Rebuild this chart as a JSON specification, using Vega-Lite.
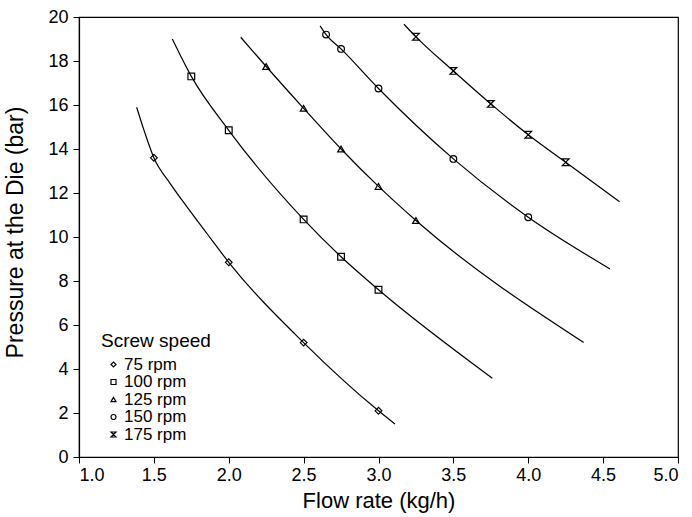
{
  "$schema": "https://vega.github.io/schema/vega-lite/v6.json",
  "autosize": "none",
  "width": 599,
  "height": 440,
  "padding": {"left": 79, "top": 17, "right": 14, "bottom": 60},
  "background": "white",
  "config": {
    "font": "Liberation Sans",
    "view": {"stroke": "black", "strokeWidth": 1.2},
    "axis": {"grid": false, "domainColor": "black", "domainWidth": 1.2, "tickColor": "black", "tickSize": 6, "labelColor": "black", "labelFont": "Liberation Sans", "labelFontSize": 18, "titleColor": "black", "titleFont": "Liberation Sans", "titleFontSize": 21, "titleFontWeight": "normal"}
  },
  "datasets": {
    "curves": [
      {"speed": "75 rpm", "x": 1.385, "y": 15.9},
      {"speed": "75 rpm", "x": 1.441, "y": 14.71},
      {"speed": "75 rpm", "x": 1.5, "y": 13.6},
      {"speed": "75 rpm", "x": 1.608, "y": 12.44},
      {"speed": "75 rpm", "x": 1.72, "y": 11.38},
      {"speed": "75 rpm", "x": 1.853, "y": 10.17},
      {"speed": "75 rpm", "x": 2.0, "y": 8.85},
      {"speed": "75 rpm", "x": 2.5, "y": 5.2},
      {"speed": "75 rpm", "x": 3.0, "y": 2.1},
      {"speed": "75 rpm", "x": 3.11, "y": 1.5},
      {"speed": "100 rpm", "x": 1.623, "y": 19.0},
      {"speed": "100 rpm", "x": 1.75, "y": 17.3},
      {"speed": "100 rpm", "x": 2.0, "y": 14.85},
      {"speed": "100 rpm", "x": 2.5, "y": 10.8},
      {"speed": "100 rpm", "x": 2.75, "y": 9.1},
      {"speed": "100 rpm", "x": 3.0, "y": 7.6},
      {"speed": "100 rpm", "x": 3.76, "y": 3.58},
      {"speed": "125 rpm", "x": 2.08, "y": 19.08},
      {"speed": "125 rpm", "x": 2.25, "y": 17.75},
      {"speed": "125 rpm", "x": 2.5, "y": 15.85},
      {"speed": "125 rpm", "x": 2.75, "y": 14.0},
      {"speed": "125 rpm", "x": 3.0, "y": 12.3},
      {"speed": "125 rpm", "x": 3.25, "y": 10.75},
      {"speed": "125 rpm", "x": 4.37, "y": 5.21},
      {"speed": "150 rpm", "x": 2.61, "y": 19.6},
      {"speed": "150 rpm", "x": 2.65, "y": 19.2},
      {"speed": "150 rpm", "x": 2.75, "y": 18.55},
      {"speed": "150 rpm", "x": 3.0, "y": 16.75},
      {"speed": "150 rpm", "x": 3.5, "y": 13.55},
      {"speed": "150 rpm", "x": 4.0, "y": 10.9},
      {"speed": "150 rpm", "x": 4.546, "y": 8.55},
      {"speed": "175 rpm", "x": 3.17, "y": 19.67},
      {"speed": "175 rpm", "x": 3.25, "y": 19.1},
      {"speed": "175 rpm", "x": 3.5, "y": 17.55},
      {"speed": "175 rpm", "x": 3.75, "y": 16.05},
      {"speed": "175 rpm", "x": 4.0, "y": 14.65},
      {"speed": "175 rpm", "x": 4.25, "y": 13.4},
      {"speed": "175 rpm", "x": 4.61, "y": 11.6}
    ],
    "points": [
      {"speed": "75 rpm", "x": 1.5, "y": 13.6},
      {"speed": "75 rpm", "x": 2.0, "y": 8.85},
      {"speed": "75 rpm", "x": 2.5, "y": 5.2},
      {"speed": "75 rpm", "x": 3.0, "y": 2.1},
      {"speed": "100 rpm", "x": 1.75, "y": 17.3},
      {"speed": "100 rpm", "x": 2.0, "y": 14.85},
      {"speed": "100 rpm", "x": 2.5, "y": 10.8},
      {"speed": "100 rpm", "x": 2.75, "y": 9.1},
      {"speed": "100 rpm", "x": 3.0, "y": 7.6},
      {"speed": "125 rpm", "x": 2.25, "y": 17.75},
      {"speed": "125 rpm", "x": 2.5, "y": 15.85},
      {"speed": "125 rpm", "x": 2.75, "y": 14.0},
      {"speed": "125 rpm", "x": 3.0, "y": 12.3},
      {"speed": "125 rpm", "x": 3.25, "y": 10.75},
      {"speed": "150 rpm", "x": 2.65, "y": 19.2},
      {"speed": "150 rpm", "x": 2.75, "y": 18.55},
      {"speed": "150 rpm", "x": 3.0, "y": 16.75},
      {"speed": "150 rpm", "x": 3.5, "y": 13.55},
      {"speed": "150 rpm", "x": 4.0, "y": 10.9},
      {"speed": "175 rpm", "x": 3.25, "y": 19.1},
      {"speed": "175 rpm", "x": 3.5, "y": 17.55},
      {"speed": "175 rpm", "x": 3.75, "y": 16.05},
      {"speed": "175 rpm", "x": 4.0, "y": 14.65},
      {"speed": "175 rpm", "x": 4.25, "y": 13.4}
    ]
  },
  "layer": [
    {
      "data": {"name": "curves"},
      "mark": {"type": "line", "interpolate": "monotone", "color": "black", "strokeWidth": 1.2},
      "encoding": {
        "x": {"field": "x", "type": "quantitative", "scale": {"domain": [1, 5], "nice": false, "zero": false},
          "axis": {"title": "Flow rate (kg/h)", "titleFontSize": 22, "values": [1, 1.5, 2, 2.5, 3, 3.5, 4, 4.5, 5], "format": ".1f", "labelPadding": 3, "titleBaseline": "alphabetic", "titleY": 50}},
        "y": {"field": "y", "type": "quantitative", "scale": {"domain": [0, 20], "nice": false},
          "axis": {"title": "Pressure at the Die (bar)", "titleFontSize": 23, "values": [0, 2, 4, 6, 8, 10, 12, 14, 16, 18, 20], "labelPadding": 5, "titleBaseline": "alphabetic", "titleX": -57, "titleY": 215}},
        "detail": {"field": "speed"}
      }
    },
    {
      "data": {"name": "points"},
      "mark": {"type": "point", "filled": false, "color": "black", "strokeWidth": 1.2, "size": 45, "opacity": 1},
      "encoding": {
        "x": {"field": "x", "type": "quantitative"},
        "y": {"field": "y", "type": "quantitative"},
        "shape": {"field": "speed", "type": "nominal",
          "scale": {"domain": ["75 rpm", "100 rpm", "125 rpm", "150 rpm", "175 rpm"],
            "range": ["diamond", "square", "triangle-up", "circle", "M-1,-1L1,-1L-1,1L1,1Z"]},
          "legend": {"title": "Screw speed", "orient": "none", "legendX": 22, "legendY": 315,
            "titleFontSize": 19, "titleFont": "Liberation Sans", "titleFontWeight": "normal", "titleColor": "black", "titlePadding": 5,
            "labelFontSize": 17, "labelFont": "Liberation Sans", "labelColor": "black", "labelOffset": 2,
            "symbolSize": 25, "symbolStrokeColor": "black", "symbolStrokeWidth": 1.2, "symbolFillColor": "transparent",
            "rowPadding": -0.5, "padding": 0, "offset": 0, "symbolOffset": 4}
        }
      }
    }
  ]
}
